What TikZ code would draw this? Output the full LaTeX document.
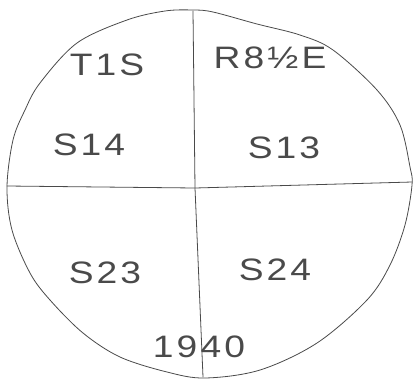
\documentclass[tikz,border=0pt]{standalone}
\usepackage{fontspec}
\setmainfont{Liberation Sans}
\newfontfamily\handfont[FakeStretch=1.2,LetterSpace=10]{Liberation Sans}
\definecolor{pencil}{HTML}{4A4A4A}

\begin{document}
\begin{tikzpicture}[
    x=1pt,
    y=-1pt,
    pen/.style={
        draw=pencil,
        line width=0.8pt,
        line cap=round,
        line join=round
    },
    label/.style={
        text=pencil,
        font=\handfont\fontsize{31}{31}\selectfont,
        inner sep=0pt
    }
]

\useasboundingbox (0,0) rectangle (417,381);

% outline of the section
\draw[pen] plot[smooth cycle, tension=0.55] coordinates {
    (193,10) (213,12) (257,24) (300,35) (333,50) (377,90) (400,125)
    (410,167) (412,185) (405,225) (390,265) (367,300) (317,343)
    (260,370) (205,378) (167,372) (120,357) (83,333) (50,300)
    (30,273) (12,230) (7,187) (13,140) (25,110) (40,83) (77,43)
    (127,20) (165,11)
};

\coordinate (top) at (193,11);
\coordinate (bottom) at (203,377);
\coordinate (left) at (7,186);
\coordinate (right) at (412,182);

\draw[pen] (top) -- (195,188) -- (bottom);
\draw[pen] (left) -- (195,188) -- (right);

\node[label] (town) at (107,65) {T1S};
\node[label] (range) at (270,58) {R8½E};
\node[label] (s14) at (89,145) {S14};
\node[label] (s13) at (284,148) {S13};
\node[label] (s23) at (105,273) {S23};
\node[label] (s24) at (275,270) {S24};
\node[label] (year) at (199,347) {1940};

\end{tikzpicture}
\end{document}
